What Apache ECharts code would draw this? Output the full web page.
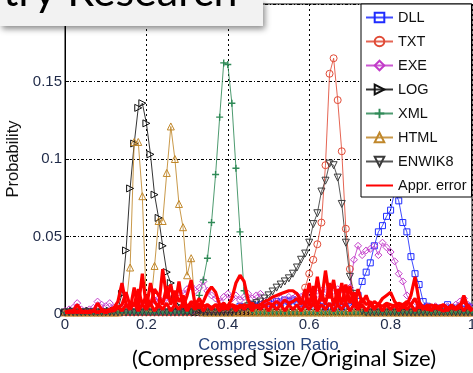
<!DOCTYPE html>
<html><head><meta charset="utf-8">
<script src="https://cdn.jsdelivr.net/npm/echarts@6/dist/echarts.min.js"></script>
<style>html,body{margin:0;padding:0;background:#fff}#c{width:473px;height:373px}</style>
</head><body><div id="c"></div>
<script>
const bins = [0,0.01,0.02,0.03,0.04,0.05,0.06,0.07,0.08,0.09,
0.1,0.11,0.12,0.13,0.14,0.15,0.16,0.17,0.18,0.19,
0.2,0.21,0.22,0.23,0.24,0.25,0.26,0.27,0.28,0.29,
0.3,0.31,0.32,0.33,0.34,0.35,0.36,0.37,0.38,0.39,
0.4,0.41,0.42,0.43,0.44,0.45,0.46,0.47,0.48,0.49,
0.5,0.51,0.52,0.53,0.54,0.55,0.56,0.57,0.58,0.59,
0.6,0.61,0.62,0.63,0.64,0.65,0.66,0.67,0.68,0.69,
0.7,0.71,0.72,0.73,0.74,0.75,0.76,0.77,0.78,0.79,
0.8,0.81,0.82,0.83,0.84,0.85,0.86,0.87,0.88,0.89,
0.9,0.91,0.92,0.93,0.94,0.95,0.96,0.97,0.98,0.99,1];

const dll = [0.001,0.001,0.001,0.001,0.001,0.001,0.001,0.001,0.001,0.001,
0.001,0.001,0.001,0.001,0.001,0.001,0.001,0.001,0.001,0.001,
0.001,0.001,0.001,0.002,0.001,0.001,0.002,0.001,0.002,0.002,
0.002,0.002,0.003,0.002,0.003,0.002,0.003,0.003,0.002,0.003,
0.003,0.004,0.003,0.005,0.004,0.004,0.006,0.005,0.006,0.005,
0.007,0.006,0.008,0.007,0.009,0.008,0.009,0.008,0.007,0.006,
0.006,0.005,0.006,0.005,0.004,0.005,0.004,0.005,0.004,0.005,
0.005,0.008,0.012,0.021,0.027,0.033,0.044,0.053,0.057,0.063,
0.067,0.079,0.073,0.059,0.053,0.037,0.026,0.019,0.008,0.005,
0.004,0.004,0.003,0.004,0.006,0.004,0.003,0.004,0.003,0.005,0.004];

const txt = [0.001,0.001,0.001,0.001,0.001,0.001,0.001,0.001,0.001,0.001,
0.001,0.001,0.001,0.001,0.001,0.001,0.001,0.001,0.001,0.001,
0.001,0.001,0.001,0.001,0.001,0.001,0.001,0.001,0.001,0.001,
0.001,0.001,0.001,0.001,0.001,0.001,0.001,0.001,0.001,0.001,
0.001,0.001,0.001,0.001,0.001,0.001,0.001,0.001,0.001,0.001,
0.001,0.001,0.001,0.001,0.001,0.001,0.002,0.003,0.005,0.017,
0.026,0.035,0.045,0.059,0.096,0.155,0.165,0.138,0.105,0.055,
0.029,0.010,0.004,0.002,0.001,0.001,0.001,0.001,0.001,0.001,
0.001,0.001,0.001,0.001,0.001,0.001,0.001,0.001,0.001,0.001,
0.001,0.001,0.001,0.001,0.001,0.001,0.001,0.001,0.001,0.001,0.001];

const exe = [0.002,0.003,0.004,0.007,0.003,0.002,0.003,0.004,0.008,0.006,
0.005,0.007,0.004,0.003,0.005,0.004,0.006,0.005,0.007,0.006,
0.008,0.007,0.009,0.010,0.008,0.011,0.009,0.012,0.014,0.013,
0.016,0.018,0.015,0.017,0.021,0.015,0.012,0.010,0.008,0.011,
0.013,0.010,0.012,0.009,0.011,0.013,0.010,0.012,0.013,0.008,
0.007,0.009,0.008,0.010,0.009,0.011,0.010,0.012,0.011,0.013,
0.012,0.014,0.013,0.015,0.014,0.017,0.015,0.016,0.016,0.012,
0.017,0.035,0.044,0.038,0.041,0.042,0.044,0.038,0.046,0.043,
0.040,0.034,0.026,0.021,0.012,0.008,0.006,0.005,0.004,0.005,
0.004,0.005,0.004,0.003,0.005,0.004,0.006,0.008,0.010,0.006,0.004];

const log = [0.001,0.001,0.002,0.001,0.001,0.001,0.002,0.001,0.001,0.001,
0.001,0.002,0.002,0.003,0.013,0.041,0.081,0.110,0.133,0.136,
0.123,0.103,0.077,0.062,0.044,0.027,0.020,0.010,0.005,0.003,
0.002,0.002,0.001,0.001,0.001,0.001,0.001,0.001,0.001,0.001,
0.001,0.001,0.001,0.001,0.001,0.001,0.001,0.001,0.001,0.001,
0.001,0.001,0.001,0.001,0.001,0.001,0.001,0.001,0.001,0.001,
0.001,0.001,0.001,0.001,0.001,0.001,0.001,0.001,0.001,0.001,
0.001,0.001,0.001,0.001,0.001,0.001,0.001,0.001,0.001,0.001,
0.001,0.001,0.001,0.001,0.001,0.001,0.001,0.001,0.001,0.001,
0.001,0.001,0.001,0.001,0.001,0.001,0.001,0.001,0.001,0.001,0.001];

const xml = [0.001,0.001,0.001,0.001,0.001,0.001,0.001,0.001,0.001,0.001,
0.001,0.001,0.001,0.001,0.001,0.001,0.001,0.001,0.001,0.001,
0.001,0.001,0.001,0.001,0.001,0.001,0.001,0.001,0.001,0.001,
0.001,0.002,0.004,0.012,0.022,0.036,0.059,0.090,0.127,0.162,
0.161,0.136,0.094,0.053,0.015,0.004,0.002,0.001,0.001,0.001,
0.001,0.001,0.001,0.001,0.001,0.001,0.001,0.001,0.001,0.001,
0.001,0.001,0.001,0.001,0.001,0.001,0.001,0.001,0.001,0.001,
0.001,0.001,0.001,0.001,0.001,0.001,0.001,0.001,0.001,0.001,
0.001,0.001,0.001,0.001,0.001,0.001,0.001,0.001,0.001,0.001,
0.001,0.001,0.001,0.001,0.001,0.001,0.001,0.001,0.001,0.001,0.001];

const html = [0.001,0.001,0.001,0.001,0.001,0.001,0.001,0.001,0.001,0.001,
0.001,0.001,0.001,0.001,0.002,0.005,0.030,0.111,0.111,0.076,
0.005,0.004,0.031,0.060,0.060,0.091,0.121,0.100,0.071,0.056,
0.025,0.036,0.005,0.002,0.001,0.001,0.001,0.001,0.001,0.001,
0.001,0.001,0.001,0.001,0.001,0.001,0.001,0.001,0.001,0.001,
0.001,0.001,0.001,0.001,0.001,0.001,0.001,0.001,0.001,0.001,
0.001,0.001,0.001,0.001,0.001,0.001,0.001,0.001,0.001,0.001,
0.001,0.001,0.001,0.001,0.001,0.001,0.001,0.001,0.001,0.001,
0.001,0.001,0.001,0.001,0.001,0.001,0.001,0.001,0.001,0.001,
0.001,0.001,0.001,0.001,0.001,0.001,0.001,0.001,0.001,0.001,0.001];

const enwik8 = [0.001,0.001,0.001,0.001,0.001,0.001,0.001,0.001,0.001,0.001,
0.001,0.001,0.001,0.001,0.001,0.001,0.001,0.001,0.001,0.001,
0.001,0.001,0.001,0.001,0.001,0.001,0.001,0.001,0.001,0.001,
0.001,0.001,0.001,0.001,0.001,0.001,0.001,0.001,0.001,0.001,
0.001,0.001,0.002,0.003,0.004,0.005,0.006,0.007,0.008,0.010,
0.012,0.0145,0.017,0.019,0.021,0.023,0.026,0.030,0.035,0.039,
0.046,0.058,0.065,0.079,0.086,0.097,0.096,0.088,0.071,0.046,
0.024,0.013,0.005,0.002,0.001,0.001,0.001,0.001,0.001,0.001,
0.001,0.001,0.001,0.001,0.001,0.001,0.001,0.001,0.001,0.001,
0.001,0.001,0.001,0.001,0.001,0.001,0.001,0.001,0.001,0.001,0.001];

const errA = [0.001,0.002,0.002,0.006,0.002,0.001,0.002,0.002,0.007,0.003,
0.002,0.003,0.004,0.008,0.020,0.006,0.003,0.017,0.004,0.026,
0.004,0.020,0.008,0.004,0.029,0.010,0.019,0.005,0.021,0.004,
0.012,0.022,0.005,0.004,0.008,0.014,0.0175,0.014,0.006,0.003,
0.005,0.010,0.020,0.025,0.021,0.009,0.004,0.005,0.006,0.008,
0.009,0.011,0.012,0.013,0.014,0.015,0.015,0.013,0.009,0.006,
0.020,0.006,0.024,0.008,0.028,0.010,0.022,0.006,0.020,0.007,
0.018,0.005,0.016,0.007,0.012,0.005,0.008,0.006,0.010,0.012,
0.014,0.008,0.005,0.004,0.006,0.012,0.024,0.008,0.004,0.003,
0.003,0.004,0.003,0.002,0.003,0.004,0.003,0.004,0.012,0.004,0.002];

const errB = [0.001,0.001,0.002,0.001,0.002,0.001,0.001,0.002,0.001,0.002,
0.001,0.002,0.002,0.004,0.006,0.014,0.005,0.006,0.016,0.006,
0.012,0.005,0.016,0.012,0.006,0.018,0.006,0.015,0.008,0.012,
0.004,0.008,0.006,0.010,0.005,0.006,0.004,0.006,0.005,0.007,
0.004,0.006,0.005,0.004,0.006,0.005,0.007,0.004,0.006,0.005,
0.007,0.006,0.008,0.006,0.009,0.007,0.008,0.010,0.006,0.016,
0.005,0.018,0.004,0.014,0.006,0.020,0.005,0.016,0.006,0.019,
0.007,0.014,0.005,0.010,0.006,0.008,0.004,0.006,0.005,0.007,
0.006,0.005,0.007,0.006,0.008,0.006,0.010,0.004,0.005,0.004,
0.006,0.004,0.005,0.006,0.004,0.005,0.004,0.006,0.008,0.005,0.003];

const errC = [0.001,0.002,0.001,0.002,0.001,0.002,0.001,0.002,0.001,0.002,
0.001,0.002,0.003,0.005,0.002,0.006,0.003,0.007,0.002,0.006,
0.003,0.007,0.002,0.006,0.003,0.007,0.002,0.006,0.003,0.007,
0.002,0.006,0.003,0.007,0.002,0.006,0.003,0.006,0.002,0.006,
0.003,0.006,0.002,0.006,0.003,0.006,0.002,0.006,0.003,0.006,
0.002,0.006,0.003,0.006,0.002,0.006,0.003,0.006,0.002,0.006,
0.003,0.007,0.002,0.006,0.003,0.007,0.002,0.006,0.003,0.007,
0.002,0.006,0.003,0.006,0.002,0.006,0.003,0.006,0.002,0.006,
0.003,0.006,0.002,0.006,0.003,0.006,0.002,0.006,0.003,0.006,
0.002,0.006,0.003,0.006,0.002,0.006,0.003,0.006,0.002,0.006,0.002];

const xTicks = ['0','0.2','0.4','0.6','0.8','1'];
const yTicks = ['0','0.05','0.1','0.15'];
const legendNames = ['DLL','TXT','EXE','LOG','XML','HTML','ENWIK8','Appr. error'];

const chart = echarts.init(document.getElementById('c'), null, {renderer:'canvas'});
const pairs = v => bins.map((x,i)=>[x, v[i]]);
const TICK_FONT = "'Liberation Sans', Arial, sans-serif";

function mk(name, vals, color, symbol, hollow, size){
  return {
    name, type:'line', data:pairs(vals),
    symbol, symbolSize:size||6, showSymbol:true, showAllSymbol:true,
    lineStyle:{color, width:1, opacity:0.85},
    itemStyle:{color: hollow ? 'rgba(0,0,0,0)' : color, borderColor:color, borderWidth: hollow?1:0},
    emphasis:{disabled:true}, z:2
  };
}
function err(vals){
  return {
    name:'Appr. error', type:'line', data:pairs(vals), symbol:'none', showSymbol:false,
    lineStyle:{color:'#ff0000', width:3.2},
    itemStyle:{color:'rgba(255,0,0,0)', borderWidth:0},
    emphasis:{disabled:true}, z:3
  };
}
const plusPath = 'path://M4,0H6V4H10V6H6V10H4V6H0V4H4Z';
const rightTri = 'path://M0,0L10,5L0,10Z';
const downTri = 'path://M0,0L10,0L5,9Z';

const option = {
  animation:false,
  grid:{left:65, right:1, top:4, bottom:59, show:true, borderColor:'#000', borderWidth:1,
        backgroundColor:'rgba(0,0,0,0)', containLabel:false, outerBoundsMode:'none'},
  xAxis:{
    type:'value', min:0, max:1, interval:0.2,
    name:'Compression Ratio', nameLocation:'middle', nameGap:21,
    nameTextStyle:{fontFamily:TICK_FONT, fontSize:16.5, color:'#24407a'},
    axisLine:{lineStyle:{color:'#000'}},
    axisTick:{inside:true, length:4, lineStyle:{color:'#000'}},
    axisLabel:{fontFamily:TICK_FONT, fontSize:15, color:'#1f2a48', margin:3,
      formatter:(v)=>xTicks[Math.round(v/0.2)]},
    splitLine:{show:true, lineStyle:{color:'#000', type:[2,3], width:1}}
  },
  yAxis:{
    type:'value', min:0, max:0.2, interval:0.05,
    name:'Probability', nameLocation:'middle', nameGap:39, nameRotate:90,
    nameTextStyle:{fontFamily:TICK_FONT, fontSize:16.5, color:'#111'},
    axisLine:{show:true, lineStyle:{color:'#000'}},
    axisTick:{show:true, inside:true, length:4, lineStyle:{color:'#000'}},
    axisLabel:{fontFamily:TICK_FONT, fontSize:15, color:'#1f2a48', margin:3, showMaxLabel:false,
      formatter:(v)=>{const i=Math.round(v/0.05); return i<yTicks.length?yTicks[i]:'';}},
    splitLine:{show:true, lineStyle:{color:'#000', type:[3,2,1,2], width:1}}
  },
  legend:{
    data:legendNames, orient:'vertical', left:361, top:4,
    backgroundColor:'#fff', borderColor:'#000', borderWidth:1, borderRadius:0,
    padding:[6,5,4,4], itemWidth:27, itemHeight:12, itemGap:9,
    textStyle:{fontFamily:TICK_FONT, fontSize:14.5, color:'#111'},
    z:10
  },
  series:[
    mk('DLL', dll, '#1f2cff', 'rect', true, 6),
    mk('TXT', txt, '#e04a36', 'circle', true, 7),
    mk('EXE', exe, '#c23bc9', 'diamond', true, 7),
    mk('LOG', log, '#111111', rightTri, true, 7),
    mk('XML', xml, '#2f8a57', plusPath, false, 7),
    mk('HTML', html, '#c0872a', 'triangle', true, 7),
    mk('ENWIK8', enwik8, '#3a3a3a', downTri, true, 7),
    err(errC), err(errB), err(errA)
  ],
  graphic:[
    {type:'rect', left:0, top:0, z:100, shape:{width:263, height:26},
     style:{fill:'#f2f2f2', shadowBlur:6, shadowOffsetY:3, shadowOffsetX:2, shadowColor:'rgba(0,0,0,0.45)'}},
    {type:'text', left:3, top:-29, z:101,
     style:{text:'try Research', font:"43px Lato, 'Open Sans', sans-serif", fill:'#000'}},
    {type:'text', left:132, top:348, z:101,
     style:{text:'(Compressed Size/Original Size)', font:"22px Lato, 'Open Sans', sans-serif", fill:'#000'}}
  ]
};
chart.setOption(option);
</script></body></html>
